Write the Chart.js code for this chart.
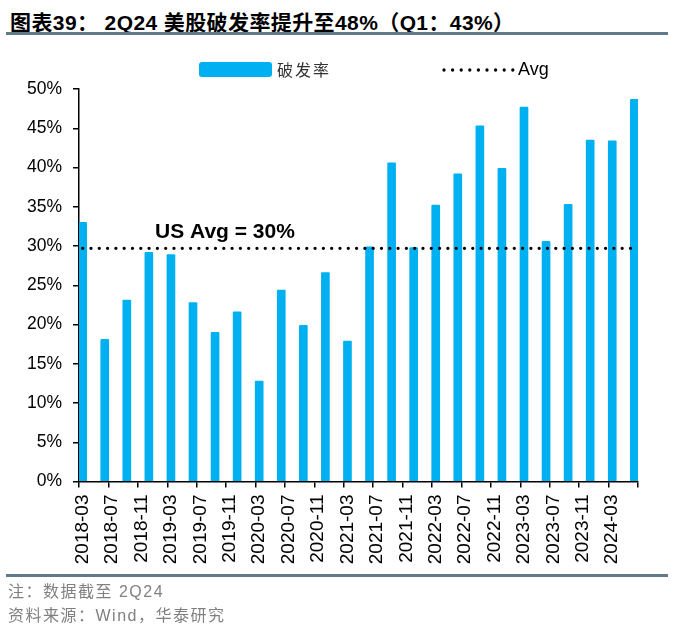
<!DOCTYPE html>
<html>
<head>
<meta charset="utf-8">
<script src="https://cdn.jsdelivr.net/npm/chart.js@4.4.1/dist/chart.umd.min.js"></script>
<style>
  html, body { margin: 0; padding: 0; background: #fff; }
  #wrap { position: relative; width: 679px; height: 639px; overflow: hidden; }
  #chart { position: absolute; left: 0; top: 0; }
  #title {
    position: absolute; left: 10px; top: 6px; line-height: 24px;
    font: bold 21px "Liberation Sans", "Noto Sans CJK SC", sans-serif;
    letter-spacing: 0.4px; color: #000; white-space: nowrap;
  }
  .rule { position: absolute; left: 6px; width: 662px; height: 2.5px; background: #62798a; }
  #foot {
    position: absolute; left: 8px; top: 578px; line-height: 28px;
    font: 16px "Liberation Sans", "Noto Sans CJK SC", sans-serif;
    color: #808080; letter-spacing: 1.5px; white-space: nowrap;
  }
</style>
</head>
<body>
<div id="wrap">
  <div id="title">图表39： 2Q24 美股破发率提升至48%（Q1：43%）</div>
  <div class="rule" style="top:32px"></div>
  <canvas id="chart" width="679" height="639"></canvas>
  <div class="rule" style="top:574px"></div>
  <div id="foot">注：数据截至 2Q24<br>资料来源：Wind，华泰研究</div>
</div>
<script>
// quarterly IPO break rate (%)
var quarters = ['2018-03','2018-06','2018-09','2018-12','2019-03','2019-06','2019-09','2019-12',
                '2020-03','2020-06','2020-09','2020-12','2021-03','2021-06','2021-09','2021-12',
                '2022-03','2022-06','2022-09','2022-12','2023-03','2023-06','2023-09','2023-12',
                '2024-03','2024-06'];
var rates = [33.0, 18.1, 23.1, 29.2, 28.9, 22.8, 19.0, 21.6,
             12.8, 24.4, 19.9, 26.6, 17.9, 29.9, 40.6, 29.8,
             35.2, 39.2, 45.3, 39.9, 47.7, 30.6, 35.3, 43.5,
             43.4, 48.7];
var avgRate = 29.7;
var seriesNames = ['破发率', 'Avg'];
var yTicks = [0, 5, 10, 15, 20, 25, 30, 35, 40, 45, 50];

var BAR_COLOR = '#00b0f0';

// monthly date axis, like the excel date axis
var months = [];
(function(){
    var y = 2018, m = 3;
    while (y < 2024 || (y === 2024 && m <= 6)) {
        months.push(y + '-' + (m < 10 ? '0' + m : m));
        m++;
        if (m > 12) { m = 1; y++; }
    }
})();

var barData = months.map(function(mo){
    var i = quarters.indexOf(mo);
    return i >= 0 ? rates[i] : null;
});
var avgData = months.map(function(){ return avgRate; });

/**
 * Legend drawn to match the reference (box + dotted line).
 */
var refLegend = {
    id: 'refLegend',
    afterDraw: function(chart){
        var ctx = chart.ctx;
        var ds = chart.data.datasets;
        ctx.save();
        // bar item
        ctx.fillStyle = ds[0].backgroundColor;
        ctx.beginPath();
        ctx.roundRect(199, 62, 73, 15, 3);
        ctx.fill();
        ctx.fillStyle = '#333';
        ctx.font = '16px "Noto Sans CJK SC", sans-serif';
        ctx.letterSpacing = '2px';
        ctx.textBaseline = 'middle';
        ctx.fillText(ds[0].label, 277, 70);
        ctx.letterSpacing = '0px';
        // line item
        ctx.strokeStyle = ds[1].borderColor;
        ctx.lineWidth = 3.3;
        ctx.lineCap = 'round';
        ctx.setLineDash([0, 8.6]);
        ctx.beginPath();
        ctx.moveTo(444, 70);
        ctx.lineTo(514, 70);
        ctx.stroke();
        ctx.setLineDash([]);
        ctx.fillStyle = '#000';
        ctx.font = '18px "Liberation Sans", sans-serif';
        ctx.fillText(ds[1].label, 518, 70);
        ctx.restore();
    }
};

/**
 * "US Avg = 30%" note above the average line.
 */
var avgNote = {
    id: 'avgNote',
    afterDatasetsDraw: function(chart){
        var ctx = chart.ctx;
        var y = chart.scales.y.getPixelForValue(avgRate);
        ctx.save();
        ctx.fillStyle = '#000';
        ctx.font = 'bold 21px "Liberation Sans", sans-serif';
        ctx.textBaseline = 'alphabetic';
        ctx.fillText('US Avg = 30%', chart.chartArea.left + 76, y - 10);
        ctx.restore();
    }
};

var ctx = document.getElementById('chart').getContext('2d');
var myChart = new Chart(ctx, {
    type: 'bar',
    data: {
        labels: months,
        datasets: [{
            label: seriesNames[0],
            data: barData,
            backgroundColor: BAR_COLOR,
            barThickness: 8,
            borderRadius: 1,
            order: 1
        }, {
            type: 'line',
            label: seriesNames[1],
            data: avgData,
            borderColor: '#000',
            borderWidth: 3.3,
            borderDash: [0, 8.3],
            borderCapStyle: 'round',
            pointRadius: 0,
            fill: false,
            order: 0
        }]
    },
    options: {
        responsive: false,
        animation: false,
        devicePixelRatio: 1,
        layout: { padding: { top: 89, right: 41, bottom: 67.5, left: 0 } },
        plugins: {
            legend: { display: false },
            tooltip: { enabled: false }
        },
        scales: {
            x: {
                type: 'category',
                offset: true,
                afterFit: function(scale){ scale.height = 90; },
                grid: {
                    offset: true,
                    drawOnChartArea: false,
                    drawTicks: true,
                    tickLength: 6,
                    lineWidth: 1.5,
                    color: function(c){
                        return (c.type !== 'tick' || c.index % 4 === 0) ? '#000' : 'rgba(0,0,0,0)';
                    }
                },
                border: { color: '#000', width: 1.5 },
                ticks: {
                    autoSkip: false,
                    minRotation: 90,
                    maxRotation: 90,
                    padding: 7,
                    color: '#000',
                    font: { family: '"Liberation Sans", Arial, sans-serif', size: 19 },
                    callback: function(value, index){
                        return index % 4 === 0 ? this.getLabelForValue(value) : '';
                    }
                }
            },
            y: {
                min: yTicks[0],
                max: yTicks[yTicks.length - 1],
                afterFit: function(scale){ scale.width = 79; },
                afterBuildTicks: function(scale){
                    scale.ticks = yTicks.map(function(v){ return { value: v }; });
                },
                grid: {
                    drawOnChartArea: false,
                    drawTicks: true,
                    tickLength: 6,
                    lineWidth: 1.5,
                    color: '#000'
                },
                border: { color: '#000', width: 1.5 },
                ticks: {
                    padding: 11,
                    color: '#000',
                    font: { family: '"Liberation Sans", Arial, sans-serif', size: 17.5 },
                    callback: function(v){ return v + '%'; }
                }
            }
        }
    },
    plugins: [refLegend, avgNote]
});
</script>
</body>
</html>
